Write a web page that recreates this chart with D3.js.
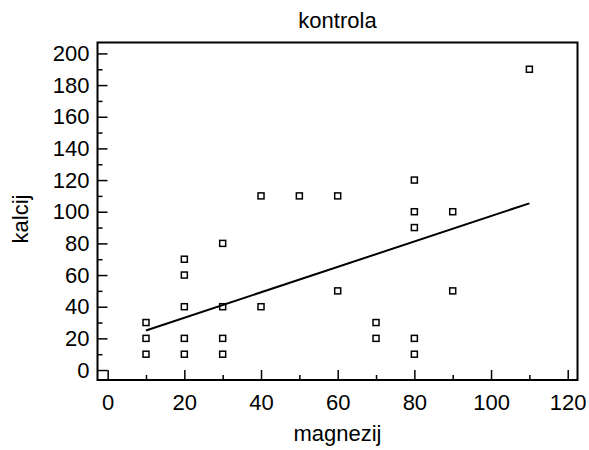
<!DOCTYPE html>
<html>
<head>
<meta charset="utf-8">
<script src="https://cdn.jsdelivr.net/npm/d3@7"></script>
<style>
  body { margin: 0; background: #fff; }
  svg { display: block; font-family: "Liberation Sans", Arial, sans-serif; }
</style>
</head>
<body>
<svg id="chart" width="589" height="450"></svg>
<script>
// data
var magnezij = [10, 10, 10, 20, 20, 20, 20, 20, 30, 30, 30, 30, 40, 40, 50, 60, 60, 70, 70, 80, 80, 80, 80, 80, 90, 90, 110];
var kalcij   = [10, 20, 30, 10, 20, 40, 60, 70, 10, 20, 40, 80, 40, 110, 110, 50, 110, 20, 30, 10, 20, 90, 100, 120, 50, 100, 190];
var fitX = [10, 110];
var fitY = [25, 105.3];
var xTicks = [0, 20, 40, 60, 80, 100, 120];
var xMinor = [10, 30, 50, 70, 90, 110];
var yTicks = [0, 20, 40, 60, 80, 100, 120, 140, 160, 180, 200];
var yMinor = [10, 30, 50, 70, 90, 110, 130, 150, 170, 190];

var svg = d3.select("#chart");
var pLeft = 97.5, pRight = 577.5, pTop = 42.5, pBottom = 380;

var x = d3.scaleLinear().domain([-2.65, 122.55]).range([pLeft, pRight]);
var y = d3.scaleLinear().domain([-6.3, 206.9]).range([pBottom, pTop]);

// minor ticks
svg.append("g")
    .attr("transform", "translate(0," + pBottom + ")")
    .call(d3.axisBottom(x).tickValues(xMinor).tickSize(-5).tickFormat(""))
    .call(function(g) { g.select(".domain").remove(); });
svg.append("g")
    .attr("transform", "translate(" + pLeft + ",0)")
    .call(d3.axisLeft(y).tickValues(yMinor).tickSize(-5).tickFormat(""))
    .call(function(g) { g.select(".domain").remove(); });

// major ticks + labels
var axisX = svg.append("g")
    .attr("transform", "translate(0," + pBottom + ")")
    .call(d3.axisBottom(x).tickValues(xTicks).tickSize(-10).tickPadding(14));
var axisY = svg.append("g")
    .attr("transform", "translate(" + pLeft + ",0)")
    .call(d3.axisLeft(y).tickValues(yTicks).tickSize(-10).tickPadding(8));

[axisX, axisY].forEach(function(a) {
  a.select(".domain").remove();
  a.selectAll("text").attr("font-size", 22).attr("font-family", "Liberation Sans, Arial, sans-serif").attr("fill", "#000");
});
svg.selectAll(".tick line").attr("stroke", "#000").attr("stroke-width", 1.5);

// frame
svg.append("rect")
    .attr("x", pLeft).attr("y", pTop)
    .attr("width", pRight - pLeft).attr("height", pBottom - pTop)
    .attr("fill", "none").attr("stroke", "#000").attr("stroke-width", 2);

// points
svg.append("g").selectAll("rect")
    .data(magnezij.map(function(d, i) { return [d, kalcij[i]]; }))
    .enter().append("rect")
    .attr("x", function(d) { return x(d[0]) - 3; })
    .attr("y", function(d) { return y(d[1]) - 3; })
    .attr("width", 6).attr("height", 6)
    .attr("fill", "#fff").attr("stroke", "#000").attr("stroke-width", 1.5);

// regression line
svg.append("line")
    .attr("x1", x(fitX[0])).attr("y1", y(fitY[0]))
    .attr("x2", x(fitX[1])).attr("y2", y(fitY[1]))
    .attr("stroke", "#000").attr("stroke-width", 2);

// titles
svg.append("text")
    .attr("x", (pLeft + pRight) / 2).attr("y", 28)
    .attr("text-anchor", "middle").attr("font-size", 22)
    .text("kontrola");
svg.append("text")
    .attr("x", (pLeft + pRight) / 2).attr("y", 441)
    .attr("text-anchor", "middle").attr("font-size", 22)
    .text("magnezij");
svg.append("text")
    .attr("transform", "translate(28,219) rotate(-90)")
    .attr("text-anchor", "middle").attr("font-size", 22)
    .text("kalcij");
</script>
</body>
</html>
